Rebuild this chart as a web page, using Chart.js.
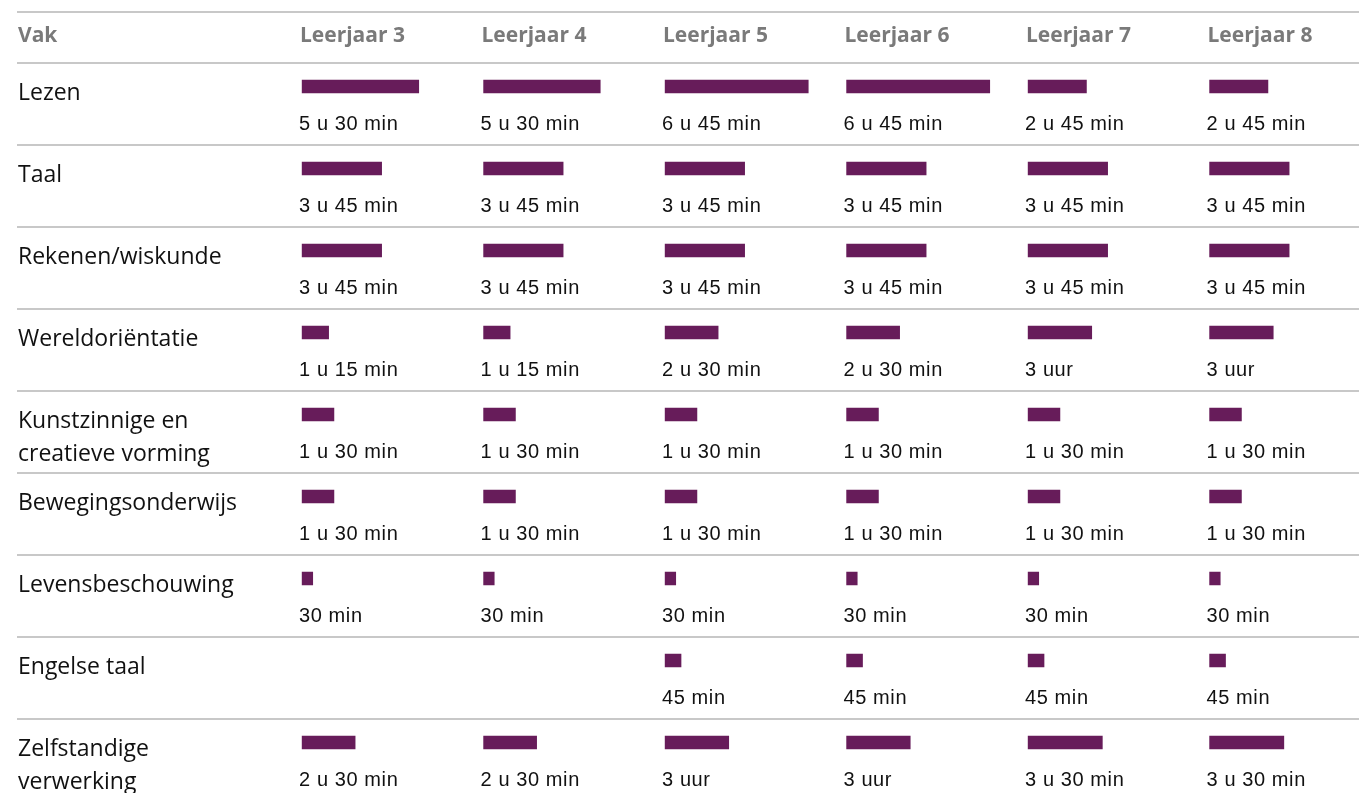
<!DOCTYPE html>
<html>
<head>
<meta charset="utf-8">
<script src="https://cdn.jsdelivr.net/npm/chart.js@4/dist/chart.umd.min.js"></script>
<style>
  html, body { margin: 0; padding: 0; background: #ffffff; overflow: hidden; }
  #wrap { position: absolute; left: 0; top: 0; width: 1389px; height: 820px; }
</style>
</head>
<body>
<div id="wrap"><canvas id="c"></canvas></div>
<script>
// ---- data (hours per week) ----
const headerVak = 'Vak';
const leerjaren = ['Leerjaar 3', 'Leerjaar 4', 'Leerjaar 5', 'Leerjaar 6', 'Leerjaar 7', 'Leerjaar 8'];
const vakken = [
  ['Lezen'],
  ['Taal'],
  ['Rekenen/wiskunde'],
  ['Wereldoriëntatie'],
  ['Kunstzinnige en', 'creatieve vorming'],
  ['Bewegingsonderwijs'],
  ['Levensbeschouwing'],
  ['Engelse taal'],
  ['Zelfstandige', 'verwerking']
];
const leerjaar3 = [5.5, 3.75, 3.75, 1.25, 1.5, 1.5, 0.5, null, 2.5];
const leerjaar4 = [5.5, 3.75, 3.75, 1.25, 1.5, 1.5, 0.5, null, 2.5];
const leerjaar5 = [6.75, 3.75, 3.75, 2.5, 1.5, 1.5, 0.5, 0.75, 3];
const leerjaar6 = [6.75, 3.75, 3.75, 2.5, 1.5, 1.5, 0.5, 0.75, 3];
const leerjaar7 = [2.75, 3.75, 3.75, 3, 1.5, 1.5, 0.5, 0.75, 3.5];
const leerjaar8 = [2.75, 3.75, 3.75, 3, 1.5, 1.5, 0.5, 0.75, 3.5];
const series = [leerjaar3, leerjaar4, leerjaar5, leerjaar6, leerjaar7, leerjaar8];

// ---- styling ----
const BAR_COLOR = '#671c5a';
const LINE_COLOR = '#c8c8c8';
const HEAD_COLOR = '#7a7a7a';
const LABEL_FONT = '"Open Sans", sans-serif';
const VALUE_FONT = '"Liberation Sans", Arial, sans-serif';
const HEAD_SIZE = 21;
const HEAD_PAD = 23;

function fmt(h) {
  const u = Math.floor(h);
  const m = Math.round((h - u) * 60);
  if (m === 0) return u + ' uur';
  if (u === 0) return m + ' min';
  return u + ' u ' + m + ' min';
}

const scales = {
  y: {
    type: 'category',
    labels: vakken.map((v, i) => String(i)),
    offset: true,
    grid: { display: false },
    border: { display: false },
    ticks: {
      autoSkip: false,
      crossAlign: 'far',
      labelOffset: 7,
      color: '#111111',
      font: { family: LABEL_FONT, size: 23, lineHeight: 33 / 23 },
      callback: (v, i) => vakken[i].length > 1 ? [''].concat(vakken[i]) : vakken[i]
    },
    afterFit: (s) => { s.width = 282; s.paddingTop = 0; s.paddingBottom = 0; }
  }
};
// top-positioned stacked axes are laid out in reverse insertion order
for (let k = leerjaren.length - 1; k >= 0; k--) {
  scales['x' + k] = {
    type: 'linear',
    position: 'top',
    stack: 'cols',
    stackWeight: 1,
    min: -0.1,
    max: 8.46,
    grid: { display: false },
    border: { display: false },
    ticks: { display: false },
    title: {
      display: true,
      text: leerjaren[k],
      align: 'start',
      color: HEAD_COLOR,
      font: { family: LABEL_FONT, size: HEAD_SIZE, weight: 'bold', lineHeight: 1.2 },
      padding: { top: HEAD_PAD, bottom: 0 }
    },
    afterFit: (s) => { s.height = 45.5; s.paddingLeft = 0; s.paddingRight = 0; }
  };
}

const tablePlugin = {
  id: 'tablePlugin',
  beforeDatasetsDraw(chart) {
    const ctx = chart.ctx;
    const y = chart.scales.y;
    const band = y.getPixelForValue(1) - y.getPixelForValue(0);
    const lineOff = band * 23.5 / 82;
    const x0 = y.left - 1;
    const x1 = chart.width;
    ctx.save();
    ctx.strokeStyle = LINE_COLOR;
    ctx.lineWidth = 2;
    const headerLine = y.getPixelForValue(0) - lineOff;
    const topLine = headerLine - 51;
    const ys = [topLine];
    for (let i = 0; i <= vakken.length; i++) ys.push(y.getPixelForValue(i) - lineOff);
    ys.forEach(yy => {
      ctx.beginPath();
      ctx.moveTo(x0, yy);
      ctx.lineTo(x1, yy);
      ctx.stroke();
    });
    // header "Vak"
    ctx.fillStyle = HEAD_COLOR;
    ctx.font = 'bold ' + HEAD_SIZE + 'px ' + LABEL_FONT;
    ctx.textAlign = 'left';
    ctx.textBaseline = 'middle';
    const xs = chart.scales.x0;
    ctx.fillText(headerVak, y.left, xs.top + HEAD_PAD + HEAD_SIZE * 1.2 / 2);
    ctx.restore();
  },
  afterDatasetsDraw(chart) {
    const ctx = chart.ctx;
    const y = chart.scales.y;
    const band = y.getPixelForValue(1) - y.getPixelForValue(0);
    ctx.save();
    ctx.fillStyle = '#111111';
    ctx.font = '20px ' + VALUE_FONT;
    if ('letterSpacing' in ctx) ctx.letterSpacing = '0.6px';
    ctx.textAlign = 'left';
    ctx.textBaseline = 'middle';
    chart.data.datasets.forEach((ds, di) => {
      const meta = chart.getDatasetMeta(di);
      const xs = chart.scales[meta.xAxisID];
      meta.data.forEach((bar, i) => {
        const v = ds.data[i];
        if (v === null || v === undefined) return;
        ctx.fillText(fmt(v), xs.left - 1, bar.y + band * 38 / 82);
      });
    });
    ctx.restore();
  }
};

new Chart(document.getElementById('c'), {
  type: 'bar',
  data: {
    labels: vakken.map((v, i) => String(i)),
    datasets: series.map((s, k) => ({
      label: leerjaren[k],
      data: s,
      xAxisID: 'x' + k,
      yAxisID: 'y',
      backgroundColor: BAR_COLOR,
      borderWidth: 0,
      grouped: false,
      barThickness: 13
    }))
  },
  options: {
    indexAxis: 'y',
    responsive: true,
    maintainAspectRatio: false,
    animation: false,
    layout: { padding: { left: 18, right: 0, top: 0, bottom: 36.5 } },
    plugins: {
      legend: { display: false },
      tooltip: { enabled: false },
      title: { display: false }
    },
    scales: scales
  },
  plugins: [tablePlugin]
});
</script>
</body>
</html>
